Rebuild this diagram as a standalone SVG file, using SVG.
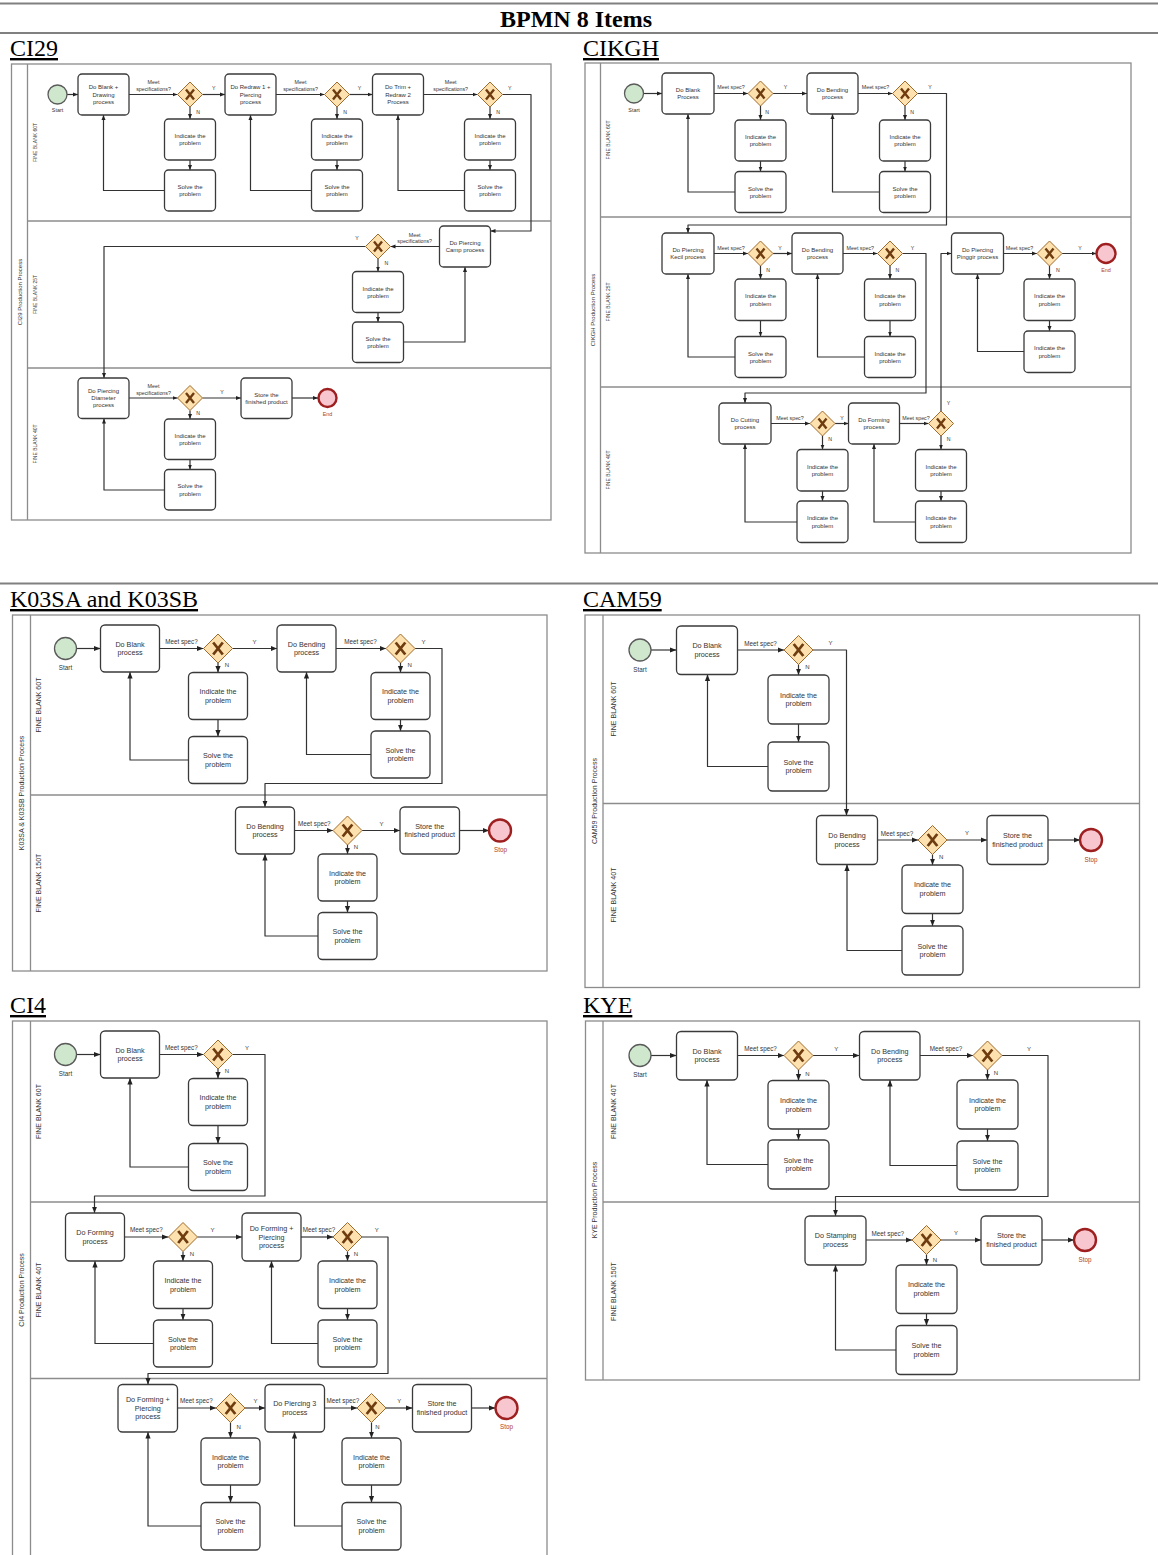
<svg xmlns="http://www.w3.org/2000/svg" xmlns:xlink="http://www.w3.org/1999/xlink" width="1158" height="1555" viewBox="0 0 1158 1555">
<style>
text{font-family:"Liberation Sans",Arial,Helvetica,sans-serif;fill:#333;text-anchor:middle}
.hd{font-family:"Liberation Serif","Times New Roman",serif;font-size:24px;fill:#000;text-anchor:start}
.hb{font-weight:bold;text-anchor:middle}
.ul{text-decoration:underline}
.rule{stroke:#808080;stroke-width:2}
.pool{fill:#fff;stroke:#8c8c8c;stroke-width:1.3}
.lane{stroke:#8c8c8c;stroke-width:1.3;fill:none}
.task{fill:#fff;stroke:#3a3a3a;stroke-width:1.3}
.start{fill:#cfe8cd;stroke:#5a5a5a;stroke-width:1.3}
.end{fill:#f8c6ce;stroke:#9e1f1f;stroke-width:2.4}
.gw{fill:#fde2b0;stroke:#a06a2c;stroke-width:1}
.gx{fill:none;stroke:#6f3c10}
.flow{fill:none;stroke:#333;stroke-width:1.2;stroke-linejoin:round}
.fs{marker-end:url(#ahS)}
.fl{marker-end:url(#ahL)}
.ts{font-size:6px}
.tb{font-size:7.2px}
.ms{font-size:5.3px}
.mb{font-size:6.3px}
.yn{font-size:5.2px}
.ynb{font-size:6px}
.pl{font-size:6px}
.plb{font-size:7px}
.ln{font-size:5px}
.lnb{font-size:7px}
.ev{font-size:5.4px}
.evb{font-size:6.3px}
.stop{fill:#b0402a}
</style>
<defs>
<marker id="ahS" viewBox="0 0 10 10" refX="10" refY="5" markerWidth="5" markerHeight="5" markerUnits="userSpaceOnUse" orient="auto"><path d="M0,1 L10,5 L0,9 Z" fill="#222"/></marker>
<marker id="ahL" viewBox="0 0 10 10" refX="10" refY="5" markerWidth="6.5" markerHeight="6.5" markerUnits="userSpaceOnUse" orient="auto"><path d="M0,1 L10,5 L0,9 Z" fill="#222"/></marker>
<g id="gwS"><path class="gw" d="M0,-12.5 L12.5,0 L0,12.5 L-12.5,0 Z"/><path class="gx" style="stroke-width:2.4" d="M-4,-5 L4,5 M4,-5 L-4,5"/></g>
<g id="gwL"><path class="gw" d="M0,-14.5 L14.5,0 L0,14.5 L-14.5,0 Z"/><path class="gx" style="stroke-width:2.8" d="M-4.8,-6 L4.8,6 M4.8,-6 L-4.8,6"/></g>
</defs>
<rect x="0" y="0" width="1158" height="1555" fill="#fff"/>

<!-- table rules and headings -->
<g id="table">
<line class="rule" x1="0" y1="3.5" x2="1158" y2="3.5"/>
<line class="rule" x1="0" y1="33" x2="1158" y2="33"/>
<line class="rule" x1="0" y1="583.5" x2="1158" y2="583.5"/>
<text class="hd hb" x="576" y="27">BPMN 8 Items</text>
<text class="hd ul" x="10" y="56">CI29</text>
<text class="hd ul" x="583" y="56">CIKGH</text>
<text class="hd ul" x="10" y="607">K03SA and K03SB</text>
<text class="hd ul" x="583" y="607">CAM59</text>
<text class="hd ul" x="10" y="1013">CI4</text>
<text class="hd ul" x="583" y="1013">KYE</text>
</g>

<!-- ================= CI29 ================= -->
<g id="ci29">
<g id="ci29-pool">
<rect class="pool" x="11.5" y="64" width="539.5" height="456"/>
<line class="lane" x1="27.5" y1="64" x2="27.5" y2="520"/>
<line class="lane" x1="27.5" y1="221" x2="551" y2="221"/>
<line class="lane" x1="27.5" y1="368" x2="551" y2="368"/>
<text class="pl" transform="translate(21.6,292) rotate(-90)">CI29 Production Process</text>
<text class="ln" transform="translate(36.8,142.5) rotate(-90)">FINE BLANK 60T</text>
<text class="ln" transform="translate(36.8,294.5) rotate(-90)">FINE BLANK 25T</text>
<text class="ln" transform="translate(36.8,444) rotate(-90)">FINE BLANK 40T</text>
</g>
<g id="ci29-flows">
<path class="flow fs" d="M67 94.5 H78"/>
<path class="flow fs" d="M129 94.5 H177.5"/>
<path class="flow fs" d="M202.5 94.5 H225"/>
<path class="flow fs" d="M276 94.5 H324.5"/>
<path class="flow fs" d="M349.5 94.5 H372.5"/>
<path class="flow fs" d="M423.5 94.5 H477.5"/>
<path class="flow fs" d="M502.5 94.5 H531 V231 H490.5"/>
<path class="flow fs" d="M190 107 V119"/>
<path class="flow fs" d="M190 160 V170"/>
<path class="flow fs" d="M164.5 190.5 H103.5 V115"/>
<path class="flow fs" d="M337 107 V119"/>
<path class="flow fs" d="M337 160 V170"/>
<path class="flow fs" d="M312 190.5 H250.5 V115"/>
<path class="flow fs" d="M490 107 V119"/>
<path class="flow fs" d="M490 160 V170"/>
<path class="flow fs" d="M464.5 190.5 H398 V115"/>
<path class="flow fs" d="M439.5 246.5 H390.5"/>
<path class="flow fs" d="M365.5 246.5 H104 V378"/>
<path class="flow fs" d="M378 259 V271.5"/>
<path class="flow fs" d="M378 312.5 V322"/>
<path class="flow fs" d="M403.5 342 H465 V267"/>
<path class="flow fs" d="M129 398 H177.5"/>
<path class="flow fs" d="M202.5 398 H241"/>
<path class="flow fs" d="M292 398 H318"/>
<path class="flow fs" d="M190 410.5 V419"/>
<path class="flow fs" d="M190 459.5 V469.5"/>
<path class="flow fs" d="M164.5 490 H104 V418.5"/>
<text class="ms" x="153.5" y="84">Meet<tspan x="153.5" dy="6.5">specifications?</tspan></text>
<text class="ms" x="300.5" y="84">Meet<tspan x="300.5" dy="6.5">specifications?</tspan></text>
<text class="ms" x="450.7" y="84">Meet<tspan x="450.7" dy="6.5">specifications?</tspan></text>
<text class="ms" x="414.7" y="236.5">Meet<tspan x="414.7" dy="6.5">specifications?</tspan></text>
<text class="ms" x="153.5" y="388">Meet<tspan x="153.5" dy="6.5">specifications?</tspan></text>
<text class="yn" x="213.8" y="90">Y</text>
<text class="yn" x="359.6" y="90">Y</text>
<text class="yn" x="509.8" y="90">Y</text>
<text class="yn" x="357" y="240">Y</text>
<text class="yn" x="222" y="394">Y</text>
<text class="yn" x="198" y="113.5">N</text>
<text class="yn" x="345" y="113.5">N</text>
<text class="yn" x="498" y="113.5">N</text>
<text class="yn" x="386.3" y="265">N</text>
<text class="yn" x="198" y="415">N</text>
</g>
<g id="ci29-start"><circle class="start" cx="57.5" cy="94.5" r="9.5"/><text class="ev" x="57.5" y="112">Start</text></g>
<g id="ci29-t1"><rect class="task" x="78" y="74" width="51" height="41" rx="4"/><text class="ts" x="103.5" y="89.3">Do Blank +<tspan x="103.5" dy="7.3">Drawing</tspan><tspan x="103.5" dy="7.3">process</tspan></text></g>
<g id="ci29-g1"><use href="#gwS" x="190" y="94.5"/></g>
<g id="ci29-i1"><rect class="task" x="164.5" y="119" width="51" height="41" rx="4"/><text class="ts" x="190" y="138">Indicate the<tspan x="190" dy="7.3">problem</tspan></text></g>
<g id="ci29-s1"><rect class="task" x="164.5" y="170" width="51" height="41" rx="4"/><text class="ts" x="190" y="189">Solve the<tspan x="190" dy="7.3">problem</tspan></text></g>
<g id="ci29-t2"><rect class="task" x="225" y="74" width="51" height="41" rx="4"/><text class="ts" x="250.5" y="89.3">Do Redraw 1 +<tspan x="250.5" dy="7.3">Piercing</tspan><tspan x="250.5" dy="7.3">process</tspan></text></g>
<g id="ci29-g2"><use href="#gwS" x="337" y="94.5"/></g>
<g id="ci29-i2"><rect class="task" x="311.5" y="119" width="51" height="41" rx="4"/><text class="ts" x="337" y="138">Indicate the<tspan x="337" dy="7.3">problem</tspan></text></g>
<g id="ci29-s2"><rect class="task" x="311.5" y="170" width="51" height="41" rx="4"/><text class="ts" x="337" y="189">Solve the<tspan x="337" dy="7.3">problem</tspan></text></g>
<g id="ci29-t3"><rect class="task" x="372.5" y="74" width="51" height="41" rx="4"/><text class="ts" x="398" y="89.3">Do Trim +<tspan x="398" dy="7.3">Redraw 2</tspan><tspan x="398" dy="7.3">Process</tspan></text></g>
<g id="ci29-g3"><use href="#gwS" x="490" y="94.5"/></g>
<g id="ci29-i3"><rect class="task" x="464.5" y="119" width="51" height="41" rx="4"/><text class="ts" x="490" y="138">Indicate the<tspan x="490" dy="7.3">problem</tspan></text></g>
<g id="ci29-s3"><rect class="task" x="464.5" y="170" width="51" height="41" rx="4"/><text class="ts" x="490" y="189">Solve the<tspan x="490" dy="7.3">problem</tspan></text></g>
<g id="ci29-t4"><rect class="task" x="439.5" y="226" width="51" height="41" rx="4"/><text class="ts" x="465" y="245">Do Piercing<tspan x="465" dy="7.3">Camp process</tspan></text></g>
<g id="ci29-g4"><use href="#gwS" x="378" y="246.5"/></g>
<g id="ci29-i4"><rect class="task" x="352.5" y="271.5" width="51" height="41" rx="4"/><text class="ts" x="378" y="290.5">Indicate the<tspan x="378" dy="7.3">problem</tspan></text></g>
<g id="ci29-s4"><rect class="task" x="352.5" y="322" width="51" height="40.5" rx="4"/><text class="ts" x="378" y="340.7">Solve the<tspan x="378" dy="7.3">problem</tspan></text></g>
<g id="ci29-t5"><rect class="task" x="78" y="378" width="51" height="40.5" rx="4"/><text class="ts" x="103.5" y="392.8">Do Piercing<tspan x="103.5" dy="7.3">Diameter</tspan><tspan x="103.5" dy="7.3">process</tspan></text></g>
<g id="ci29-g5"><use href="#gwS" x="190" y="398"/></g>
<g id="ci29-i5"><rect class="task" x="164.5" y="419" width="51" height="40.5" rx="4"/><text class="ts" x="190" y="437.7">Indicate the<tspan x="190" dy="7.3">problem</tspan></text></g>
<g id="ci29-s5"><rect class="task" x="164.5" y="469.5" width="51" height="40.5" rx="4"/><text class="ts" x="190" y="488.2">Solve the<tspan x="190" dy="7.3">problem</tspan></text></g>
<g id="ci29-store"><rect class="task" x="241" y="378" width="51" height="40.5" rx="4"/><text class="ts" x="266.5" y="396.5">Store the<tspan x="266.5" dy="7.3">finished product</tspan></text></g>
<g id="ci29-end"><circle class="end" cx="327.5" cy="398" r="9"/><text class="ev stop" x="327.5" y="416">End</text></g>
</g>

<!-- ================= CIKGH ================= -->
<g id="cikgh">
<g id="cikgh-pool">
<rect class="pool" x="585" y="63" width="546" height="490"/>
<line class="lane" x1="600.5" y1="63" x2="600.5" y2="553"/>
<line class="lane" x1="600.5" y1="217" x2="1131" y2="217"/>
<line class="lane" x1="600.5" y1="387" x2="1131" y2="387"/>
<text class="pl" transform="translate(595.1,310) rotate(-90)">CIKGH Production Process</text>
<text class="ln" transform="translate(609.8,140) rotate(-90)">FINE BLANK 60T</text>
<text class="ln" transform="translate(609.8,302) rotate(-90)">FINE BLANK 25T</text>
<text class="ln" transform="translate(609.8,470) rotate(-90)">FINE BLANK 40T</text>
</g>
<g id="cikgh-flows">
<path class="flow fs" d="M643.5 93.5 H662"/>
<path class="flow fs" d="M714 93.5 H748"/>
<path class="flow fs" d="M773 93.5 H807"/>
<path class="flow fs" d="M858 93.5 H892.5"/>
<path class="flow fs" d="M917.5 93.5 H946.5 V225 H688 V233"/>
<path class="flow fs" d="M760.5 106 V120"/>
<path class="flow fs" d="M760.5 161 V171.5"/>
<path class="flow fs" d="M735 192 H688 V114"/>
<path class="flow fs" d="M905 106 V120"/>
<path class="flow fs" d="M905 161 V171.5"/>
<path class="flow fs" d="M879.5 192 H832.5 V114"/>
<path class="flow fs" d="M714 253.5 H748"/>
<path class="flow fs" d="M773 253.5 H792"/>
<path class="flow fs" d="M843 253.5 H877.5"/>
<path class="flow fs" d="M902.5 253.5 H926 V393 H745 V403"/>
<path class="flow fs" d="M1003.5 253.5 H1037"/>
<path class="flow fs" d="M1062 253.5 H1096.5"/>
<path class="flow fs" d="M760.5 266 V279"/>
<path class="flow fs" d="M760.5 320.5 V336.5"/>
<path class="flow fs" d="M735 357 H688 V274"/>
<path class="flow fs" d="M890 266 V279"/>
<path class="flow fs" d="M890 320.5 V336.5"/>
<path class="flow fs" d="M864.5 357 H817.5 V274"/>
<path class="flow fs" d="M1049.5 266 V279"/>
<path class="flow fs" d="M1049.5 320.5 V331"/>
<path class="flow fs" d="M1024 351.5 H977.5 V274"/>
<path class="flow fs" d="M771 423.5 H810"/>
<path class="flow fs" d="M835 423.5 H848.5"/>
<path class="flow fs" d="M899.5 423.5 H928.5"/>
<path class="flow fs" d="M941 411 V253.5 H951.5"/>
<path class="flow fs" d="M822.5 436 V449.5"/>
<path class="flow fs" d="M822.5 491 V501"/>
<path class="flow fs" d="M797 522 H745 V444"/>
<path class="flow fs" d="M941 436 V449.5"/>
<path class="flow fs" d="M941 491 V501"/>
<path class="flow fs" d="M915.5 522 H874 V444"/>
<text class="ms" x="731" y="89">Meet spec?</text>
<text class="ms" x="875.5" y="89">Meet spec?</text>
<text class="ms" x="731" y="249.5">Meet spec?</text>
<text class="ms" x="860.3" y="249.5">Meet spec?</text>
<text class="ms" x="1019.5" y="249.5">Meet spec?</text>
<text class="ms" x="790" y="419.5">Meet spec?</text>
<text class="ms" x="916" y="419.5">Meet spec?</text>
<text class="yn" x="785.6" y="89">Y</text>
<text class="yn" x="930" y="89">Y</text>
<text class="yn" x="780" y="249.5">Y</text>
<text class="yn" x="912.6" y="249.5">Y</text>
<text class="yn" x="1080" y="249.5">Y</text>
<text class="yn" x="841.9" y="419.5">Y</text>
<text class="yn" x="948.5" y="404.5">Y</text>
<text class="yn" x="767" y="113.5">N</text>
<text class="yn" x="912.2" y="113.5">N</text>
<text class="yn" x="768" y="272">N</text>
<text class="yn" x="897.4" y="272">N</text>
<text class="yn" x="1057.8" y="272">N</text>
<text class="yn" x="830" y="441">N</text>
<text class="yn" x="948.5" y="441">N</text>
</g>
<g id="cikgh-start"><circle class="start" cx="634" cy="93.5" r="9.5"/><text class="ev" x="634" y="112">Start</text></g>
<g id="cikgh-t1"><rect class="task" x="662" y="73" width="52" height="41" rx="4"/><text class="ts" x="688" y="92">Do Blank<tspan x="688" dy="7.3">Process</tspan></text></g>
<g id="cikgh-g1"><use href="#gwS" x="760.5" y="93.5"/></g>
<g id="cikgh-i1"><rect class="task" x="735" y="120" width="51" height="41" rx="4"/><text class="ts" x="760.5" y="139">Indicate the<tspan x="760.5" dy="7.3">problem</tspan></text></g>
<g id="cikgh-s1"><rect class="task" x="735" y="171.5" width="51" height="41" rx="4"/><text class="ts" x="760.5" y="190.5">Solve the<tspan x="760.5" dy="7.3">problem</tspan></text></g>
<g id="cikgh-t2"><rect class="task" x="807" y="73" width="51" height="41" rx="4"/><text class="ts" x="832.5" y="92">Do Bending<tspan x="832.5" dy="7.3">process</tspan></text></g>
<g id="cikgh-g2"><use href="#gwS" x="905" y="93.5"/></g>
<g id="cikgh-i2"><rect class="task" x="879.5" y="120" width="51" height="41" rx="4"/><text class="ts" x="905" y="139">Indicate the<tspan x="905" dy="7.3">problem</tspan></text></g>
<g id="cikgh-s2"><rect class="task" x="879.5" y="171.5" width="51" height="41" rx="4"/><text class="ts" x="905" y="190.5">Solve the<tspan x="905" dy="7.3">problem</tspan></text></g>
<g id="cikgh-t3"><rect class="task" x="662" y="233" width="52" height="41" rx="4"/><text class="ts" x="688" y="252">Do Piercing<tspan x="688" dy="7.3">Kecil process</tspan></text></g>
<g id="cikgh-g3"><use href="#gwS" x="760.5" y="253.5"/></g>
<g id="cikgh-i3"><rect class="task" x="735" y="279" width="51" height="41.5" rx="4"/><text class="ts" x="760.5" y="298.2">Indicate the<tspan x="760.5" dy="7.3">problem</tspan></text></g>
<g id="cikgh-s3"><rect class="task" x="735" y="336.5" width="51" height="41" rx="4"/><text class="ts" x="760.5" y="355.5">Solve the<tspan x="760.5" dy="7.3">problem</tspan></text></g>
<g id="cikgh-t4"><rect class="task" x="792" y="233" width="51" height="41" rx="4"/><text class="ts" x="817.5" y="252">Do Bending<tspan x="817.5" dy="7.3">process</tspan></text></g>
<g id="cikgh-g4"><use href="#gwS" x="890" y="253.5"/></g>
<g id="cikgh-i4"><rect class="task" x="864.5" y="279" width="51" height="41.5" rx="4"/><text class="ts" x="890" y="298.2">Indicate the<tspan x="890" dy="7.3">problem</tspan></text></g>
<g id="cikgh-i4b"><rect class="task" x="864.5" y="336.5" width="51" height="41" rx="4"/><text class="ts" x="890" y="355.5">Indicate the<tspan x="890" dy="7.3">problem</tspan></text></g>
<g id="cikgh-t5"><rect class="task" x="951.5" y="233" width="52" height="41" rx="4"/><text class="ts" x="977.5" y="252">Do Piercing<tspan x="977.5" dy="7.3">Pinggir process</tspan></text></g>
<g id="cikgh-g5"><use href="#gwS" x="1049.5" y="253.5"/></g>
<g id="cikgh-i5"><rect class="task" x="1024" y="279" width="51" height="41.5" rx="4"/><text class="ts" x="1049.5" y="298.2">Indicate the<tspan x="1049.5" dy="7.3">problem</tspan></text></g>
<g id="cikgh-i5b"><rect class="task" x="1024" y="331" width="51" height="41.5" rx="4"/><text class="ts" x="1049.5" y="350.2">Indicate the<tspan x="1049.5" dy="7.3">problem</tspan></text></g>
<g id="cikgh-end"><circle class="end" cx="1106" cy="253.5" r="9.5"/><text class="ev stop" x="1106" y="272">End</text></g>
<g id="cikgh-t6"><rect class="task" x="719" y="403" width="52" height="41" rx="4"/><text class="ts" x="745" y="422">Do Cutting<tspan x="745" dy="7.3">process</tspan></text></g>
<g id="cikgh-g6"><use href="#gwS" x="822.5" y="423.5"/></g>
<g id="cikgh-i6"><rect class="task" x="797" y="449.5" width="51" height="41.5" rx="4"/><text class="ts" x="822.5" y="468.7">Indicate the<tspan x="822.5" dy="7.3">problem</tspan></text></g>
<g id="cikgh-i6b"><rect class="task" x="797" y="501" width="51" height="41.5" rx="4"/><text class="ts" x="822.5" y="520.2">Indicate the<tspan x="822.5" dy="7.3">problem</tspan></text></g>
<g id="cikgh-t7"><rect class="task" x="848.5" y="403" width="51" height="41" rx="4"/><text class="ts" x="874" y="422">Do Forming<tspan x="874" dy="7.3">process</tspan></text></g>
<g id="cikgh-g7"><use href="#gwS" x="941" y="423.5"/></g>
<g id="cikgh-i7"><rect class="task" x="915.5" y="449.5" width="51" height="41.5" rx="4"/><text class="ts" x="941" y="468.7">Indicate the<tspan x="941" dy="7.3">problem</tspan></text></g>
<g id="cikgh-i7b"><rect class="task" x="915.5" y="501" width="51" height="41.5" rx="4"/><text class="ts" x="941" y="520.2">Indicate the<tspan x="941" dy="7.3">problem</tspan></text></g>
</g>

<!-- ================= K03SA and K03SB ================= -->
<g id="k03s">
<g id="k03s-pool">
<rect class="pool" x="12.5" y="615" width="534.5" height="356"/>
<line class="lane" x1="30.5" y1="615" x2="30.5" y2="971"/>
<line class="lane" x1="30.5" y1="795" x2="547" y2="795"/>
<text class="plb" transform="translate(23.9,793) rotate(-90)">K03SA &amp; K03SB Production Process</text>
<text class="lnb" transform="translate(41,705) rotate(-90)">FINE BLANK 60T</text>
<text class="lnb" transform="translate(41,883) rotate(-90)">FINE BLANK 150T</text>
</g>
<g id="k03s-flows">
<path class="flow fl" d="M76.5 648.5 H100.5"/>
<path class="flow fl" d="M159.5 648.5 H203.5"/>
<path class="flow fl" d="M232.5 648.5 H277"/>
<path class="flow fl" d="M336 648.5 H386"/>
<path class="flow fl" d="M415 648.5 H442 V783.5 H265 V807"/>
<path class="flow fl" d="M218 663 V672.5"/>
<path class="flow fl" d="M218 719.5 V736.5"/>
<path class="flow fl" d="M188.5 760 H130 V672"/>
<path class="flow fl" d="M400.5 663 V672.5"/>
<path class="flow fl" d="M400.5 719.5 V731"/>
<path class="flow fl" d="M371 754.5 H306.5 V672"/>
<path class="flow fl" d="M294.5 830.5 H333"/>
<path class="flow fl" d="M362 830.5 H400"/>
<path class="flow fl" d="M459.5 830.5 H489"/>
<path class="flow fl" d="M347.5 845 V854"/>
<path class="flow fl" d="M347.5 901 V912.5"/>
<path class="flow fl" d="M318 936 H265 V854"/>
<text class="mb" x="181.5" y="644.2">Meet spec?</text>
<text class="mb" x="360.5" y="644.2">Meet spec?</text>
<text class="mb" x="314.3" y="826.2">Meet spec?</text>
<text class="ynb" x="254.6" y="643.8">Y</text>
<text class="ynb" x="423.6" y="643.8">Y</text>
<text class="ynb" x="381.4" y="825.8">Y</text>
<text class="ynb" x="226.8" y="667">N</text>
<text class="ynb" x="409.6" y="667">N</text>
<text class="ynb" x="356" y="848.8">N</text>
</g>
<g id="k03s-start"><circle class="start" cx="65.5" cy="648.5" r="11"/><text class="evb" x="65.5" y="669.5">Start</text></g>
<g id="k03s-t1"><rect class="task" x="100.5" y="625" width="59" height="47" rx="4.5"/><text class="tb" x="130" y="646.65">Do Blank<tspan x="130" dy="8.7">process</tspan></text></g>
<g id="k03s-g1"><use href="#gwL" x="218" y="648.5"/></g>
<g id="k03s-i1"><rect class="task" x="188.5" y="672.5" width="59" height="47" rx="4.5"/><text class="tb" x="218" y="694.15">Indicate the<tspan x="218" dy="8.7">problem</tspan></text></g>
<g id="k03s-s1"><rect class="task" x="188.5" y="736.5" width="59" height="47" rx="4.5"/><text class="tb" x="218" y="758.15">Solve the<tspan x="218" dy="8.7">problem</tspan></text></g>
<g id="k03s-t2"><rect class="task" x="277" y="625" width="59" height="47" rx="4.5"/><text class="tb" x="306.5" y="646.65">Do Bending<tspan x="306.5" dy="8.7">process</tspan></text></g>
<g id="k03s-g2"><use href="#gwL" x="400.5" y="648.5"/></g>
<g id="k03s-i2"><rect class="task" x="371" y="672.5" width="59" height="47" rx="4.5"/><text class="tb" x="400.5" y="694.15">Indicate the<tspan x="400.5" dy="8.7">problem</tspan></text></g>
<g id="k03s-s2"><rect class="task" x="371" y="731" width="59" height="47" rx="4.5"/><text class="tb" x="400.5" y="752.65">Solve the<tspan x="400.5" dy="8.7">problem</tspan></text></g>
<g id="k03s-t3"><rect class="task" x="235.5" y="807" width="59" height="47" rx="4.5"/><text class="tb" x="265" y="828.65">Do Bending<tspan x="265" dy="8.7">process</tspan></text></g>
<g id="k03s-g3"><use href="#gwL" x="347.5" y="830.5"/></g>
<g id="k03s-i3"><rect class="task" x="318" y="854" width="59" height="47" rx="4.5"/><text class="tb" x="347.5" y="875.65">Indicate the<tspan x="347.5" dy="8.7">problem</tspan></text></g>
<g id="k03s-s3"><rect class="task" x="318" y="912.5" width="59" height="47" rx="4.5"/><text class="tb" x="347.5" y="934.15">Solve the<tspan x="347.5" dy="8.7">problem</tspan></text></g>
<g id="k03s-store"><rect class="task" x="400" y="807" width="59.5" height="47" rx="4.5"/><text class="tb" x="429.75" y="828.65">Store the<tspan x="429.75" dy="8.7">finished product</tspan></text></g>
<g id="k03s-end"><circle class="end" cx="500" cy="830.5" r="11"/><text class="evb stop" x="500.5" y="851.5">Stop</text></g>
</g>

<!-- ================= CAM59 ================= -->
<g id="cam59">
<g id="cam59-pool">
<rect class="pool" x="585" y="615" width="554.5" height="372.5"/>
<line class="lane" x1="603" y1="615" x2="603" y2="987.5"/>
<line class="lane" x1="603" y1="803.5" x2="1139.5" y2="803.5"/>
<text class="plb" transform="translate(597.2,801) rotate(-90)">CAM59 Production Process</text>
<text class="lnb" transform="translate(615.5,709) rotate(-90)">FINE BLANK 60T</text>
<text class="lnb" transform="translate(615.5,895) rotate(-90)">FINE BLANK 40T</text>
</g>
<g id="cam59-flows">
<path class="flow fl" d="M651 650 H676.5"/>
<path class="flow fl" d="M738 650 H784"/>
<path class="flow fl" d="M813 650 H846.5 V815.5"/>
<path class="flow fl" d="M798.5 664.5 V675"/>
<path class="flow fl" d="M798.5 724 V742"/>
<path class="flow fl" d="M768 766.5 H707.5 V674.5"/>
<path class="flow fl" d="M877.5 840 H918"/>
<path class="flow fl" d="M947 840 H987"/>
<path class="flow fl" d="M1048 840 H1080"/>
<path class="flow fl" d="M932.5 854.5 V865"/>
<path class="flow fl" d="M932.5 913.5 V926"/>
<path class="flow fl" d="M902 950.5 H847 V864.5"/>
<text class="mb" x="760.6" y="645.5">Meet spec?</text>
<text class="mb" x="897" y="835.5">Meet spec?</text>
<text class="ynb" x="830.6" y="644.8">Y</text>
<text class="ynb" x="967" y="834.8">Y</text>
<text class="ynb" x="807.4" y="669.4">N</text>
<text class="ynb" x="941.2" y="858.8">N</text>
</g>
<g id="cam59-start"><circle class="start" cx="640" cy="650" r="11"/><text class="evb" x="640" y="671.5">Start</text></g>
<g id="cam59-t1"><rect class="task" x="676.5" y="626" width="61" height="48.5" rx="4.5"/><text class="tb" x="707" y="648.15">Do Blank<tspan x="707" dy="8.7">process</tspan></text></g>
<g id="cam59-g1"><use href="#gwL" x="798.5" y="650"/></g>
<g id="cam59-i1"><rect class="task" x="768" y="675" width="61" height="49" rx="4.5"/><text class="tb" x="798.5" y="697.65">Indicate the<tspan x="798.5" dy="8.7">problem</tspan></text></g>
<g id="cam59-s1"><rect class="task" x="768" y="742" width="61" height="49" rx="4.5"/><text class="tb" x="798.5" y="764.65">Solve the<tspan x="798.5" dy="8.7">problem</tspan></text></g>
<g id="cam59-t2"><rect class="task" x="816.5" y="815.5" width="61" height="49" rx="4.5"/><text class="tb" x="847" y="838.15">Do Bending<tspan x="847" dy="8.7">process</tspan></text></g>
<g id="cam59-g2"><use href="#gwL" x="932.5" y="840"/></g>
<g id="cam59-i2"><rect class="task" x="902" y="865" width="61" height="48.5" rx="4.5"/><text class="tb" x="932.5" y="887.4">Indicate the<tspan x="932.5" dy="8.7">problem</tspan></text></g>
<g id="cam59-s2"><rect class="task" x="902" y="926" width="61" height="49" rx="4.5"/><text class="tb" x="932.5" y="948.65">Solve the<tspan x="932.5" dy="8.7">problem</tspan></text></g>
<g id="cam59-store"><rect class="task" x="987" y="815.5" width="61" height="49" rx="4.5"/><text class="tb" x="1017.5" y="838.15">Store the<tspan x="1017.5" dy="8.7">finished product</tspan></text></g>
<g id="cam59-end"><circle class="end" cx="1091" cy="840" r="11"/><text class="evb stop" x="1091" y="862.2">Stop</text></g>
</g>

<!-- ================= CI4 ================= -->
<g id="ci4">
<g id="ci4-pool">
<rect class="pool" x="12.5" y="1021" width="534.5" height="560"/>
<line class="lane" x1="30.5" y1="1021" x2="30.5" y2="1581"/>
<line class="lane" x1="30.5" y1="1202" x2="547" y2="1202"/>
<line class="lane" x1="30.5" y1="1378.5" x2="547" y2="1378.5"/>
<text class="plb" transform="translate(23.9,1290) rotate(-90)">CI4 Production Process</text>
<text class="lnb" transform="translate(41,1111.5) rotate(-90)">FINE BLANK 60T</text>
<text class="lnb" transform="translate(41,1290) rotate(-90)">FINE BLANK 40T</text>
</g>
<g id="ci4-flows">
<path class="flow fl" d="M76.5 1054.5 H100.5"/>
<path class="flow fl" d="M159.5 1054.5 H203.5"/>
<path class="flow fl" d="M232.5 1054.5 H265 V1196 H94.5 V1213"/>
<path class="flow fl" d="M218 1069 V1078.5"/>
<path class="flow fl" d="M218 1125.5 V1143.5"/>
<path class="flow fl" d="M188.5 1167 H130 V1078"/>
<path class="flow fl" d="M124.5 1237 H168.5"/>
<path class="flow fl" d="M197.5 1237 H242"/>
<path class="flow fl" d="M301 1237 H333"/>
<path class="flow fl" d="M362 1237 H388 V1373.5 H148 V1384.5"/>
<path class="flow fl" d="M183 1251.5 V1261"/>
<path class="flow fl" d="M183 1308.5 V1320"/>
<path class="flow fl" d="M153.5 1343.5 H95 V1261"/>
<path class="flow fl" d="M347.5 1251.5 V1261"/>
<path class="flow fl" d="M347.5 1308.5 V1320"/>
<path class="flow fl" d="M318 1343.5 H271.5 V1261"/>
<path class="flow fl" d="M177.5 1408 H216"/>
<path class="flow fl" d="M245 1408 H265"/>
<path class="flow fl" d="M324.5 1408 H357"/>
<path class="flow fl" d="M386 1408 H412.5"/>
<path class="flow fl" d="M471.5 1408 H495.5"/>
<path class="flow fl" d="M230.5 1422.5 V1438"/>
<path class="flow fl" d="M230.5 1485 V1502.5"/>
<path class="flow fl" d="M201 1526 H148 V1432"/>
<path class="flow fl" d="M371.5 1422.5 V1438"/>
<path class="flow fl" d="M371.5 1485 V1502.5"/>
<path class="flow fl" d="M342 1526 H294.5 V1432"/>
<text class="mb" x="181.4" y="1050.2">Meet spec?</text>
<text class="mb" x="146.4" y="1232.2">Meet spec?</text>
<text class="mb" x="319" y="1232.2">Meet spec?</text>
<text class="mb" x="196.4" y="1403.2">Meet spec?</text>
<text class="mb" x="342.9" y="1403.2">Meet spec?</text>
<text class="ynb" x="247.1" y="1050.2">Y</text>
<text class="ynb" x="212.5" y="1232.2">Y</text>
<text class="ynb" x="376.8" y="1232.2">Y</text>
<text class="ynb" x="255.4" y="1403.2">Y</text>
<text class="ynb" x="399.3" y="1403.2">Y</text>
<text class="ynb" x="226.8" y="1072.8">N</text>
<text class="ynb" x="191.8" y="1255.5">N</text>
<text class="ynb" x="356" y="1255.5">N</text>
<text class="ynb" x="238.6" y="1428.8">N</text>
<text class="ynb" x="377.5" y="1428.8">N</text>
</g>
<g id="ci4-start"><circle class="start" cx="65.5" cy="1054.5" r="11"/><text class="evb" x="65.5" y="1075.5">Start</text></g>
<g id="ci4-t1"><rect class="task" x="100.5" y="1031" width="59" height="47" rx="4.5"/><text class="tb" x="130" y="1052.65">Do Blank<tspan x="130" dy="8.7">process</tspan></text></g>
<g id="ci4-g1"><use href="#gwL" x="218" y="1054.5"/></g>
<g id="ci4-i1"><rect class="task" x="188.5" y="1078.5" width="59" height="47" rx="4.5"/><text class="tb" x="218" y="1100.15">Indicate the<tspan x="218" dy="8.7">problem</tspan></text></g>
<g id="ci4-s1"><rect class="task" x="188.5" y="1143.5" width="59" height="47" rx="4.5"/><text class="tb" x="218" y="1165.15">Solve the<tspan x="218" dy="8.7">problem</tspan></text></g>
<g id="ci4-t2"><rect class="task" x="65.5" y="1213" width="59" height="48" rx="4.5"/><text class="tb" x="95" y="1235.15">Do Forming<tspan x="95" dy="8.7">process</tspan></text></g>
<g id="ci4-g2"><use href="#gwL" x="183" y="1237"/></g>
<g id="ci4-i2"><rect class="task" x="153.5" y="1261" width="59" height="47.5" rx="4.5"/><text class="tb" x="183" y="1282.9">Indicate the<tspan x="183" dy="8.7">problem</tspan></text></g>
<g id="ci4-s2"><rect class="task" x="153.5" y="1320" width="59" height="47" rx="4.5"/><text class="tb" x="183" y="1341.65">Solve the<tspan x="183" dy="8.7">problem</tspan></text></g>
<g id="ci4-t3"><rect class="task" x="242" y="1213" width="59" height="48" rx="4.5"/><text class="tb" x="271.5" y="1230.8">Do Forming +<tspan x="271.5" dy="8.7">Piercing</tspan><tspan x="271.5" dy="8.7">process</tspan></text></g>
<g id="ci4-g3"><use href="#gwL" x="347.5" y="1237"/></g>
<g id="ci4-i3"><rect class="task" x="318" y="1261" width="59" height="47.5" rx="4.5"/><text class="tb" x="347.5" y="1282.9">Indicate the<tspan x="347.5" dy="8.7">problem</tspan></text></g>
<g id="ci4-s3"><rect class="task" x="318" y="1320" width="59" height="47" rx="4.5"/><text class="tb" x="347.5" y="1341.65">Solve the<tspan x="347.5" dy="8.7">problem</tspan></text></g>
<g id="ci4-t4"><rect class="task" x="118" y="1384.5" width="59.5" height="47.5" rx="4.5"/><text class="tb" x="147.75" y="1401.8">Do Forming +<tspan x="147.75" dy="8.7">Piercing</tspan><tspan x="147.75" dy="8.7">process</tspan></text></g>
<g id="ci4-g4"><use href="#gwL" x="230.5" y="1408"/></g>
<g id="ci4-i4"><rect class="task" x="201" y="1438" width="59" height="47" rx="4.5"/><text class="tb" x="230.5" y="1459.65">Indicate the<tspan x="230.5" dy="8.7">problem</tspan></text></g>
<g id="ci4-s4"><rect class="task" x="201" y="1502.5" width="59" height="47.5" rx="4.5"/><text class="tb" x="230.5" y="1524.4">Solve the<tspan x="230.5" dy="8.7">problem</tspan></text></g>
<g id="ci4-t5"><rect class="task" x="265" y="1384.5" width="59.5" height="47.5" rx="4.5"/><text class="tb" x="294.75" y="1406.15">Do Piercing 3<tspan x="294.75" dy="8.7">process</tspan></text></g>
<g id="ci4-g5"><use href="#gwL" x="371.5" y="1408"/></g>
<g id="ci4-i5"><rect class="task" x="342" y="1438" width="59" height="47" rx="4.5"/><text class="tb" x="371.5" y="1459.65">Indicate the<tspan x="371.5" dy="8.7">problem</tspan></text></g>
<g id="ci4-s5"><rect class="task" x="342" y="1502.5" width="59" height="47.5" rx="4.5"/><text class="tb" x="371.5" y="1524.4">Solve the<tspan x="371.5" dy="8.7">problem</tspan></text></g>
<g id="ci4-store"><rect class="task" x="412.5" y="1384.5" width="59" height="47.5" rx="4.5"/><text class="tb" x="442" y="1406.15">Store the<tspan x="442" dy="8.7">finished product</tspan></text></g>
<g id="ci4-end"><circle class="end" cx="506.5" cy="1408" r="11"/><text class="evb stop" x="506.5" y="1428.8">Stop</text></g>
</g>

<!-- ================= KYE ================= -->
<g id="kye">
<g id="kye-pool">
<rect class="pool" x="585.5" y="1021" width="554" height="359"/>
<line class="lane" x1="603" y1="1021" x2="603" y2="1380"/>
<line class="lane" x1="603" y1="1202" x2="1139.5" y2="1202"/>
<text class="plb" transform="translate(597.2,1200) rotate(-90)">KYE Production Process</text>
<text class="lnb" transform="translate(615.5,1111.5) rotate(-90)">FINE BLANK 40T</text>
<text class="lnb" transform="translate(615.5,1291.5) rotate(-90)">FINE BLANK 150T</text>
</g>
<g id="kye-flows">
<path class="flow fl" d="M651 1055.5 H676.5"/>
<path class="flow fl" d="M738 1055.5 H784"/>
<path class="flow fl" d="M813 1055.5 H859.5"/>
<path class="flow fl" d="M920 1055.5 H973"/>
<path class="flow fl" d="M1002 1055.5 H1048 V1196.5 H835.5 V1216"/>
<path class="flow fl" d="M798.5 1070 V1080.5"/>
<path class="flow fl" d="M798.5 1129 V1140"/>
<path class="flow fl" d="M768 1164.5 H707 V1080"/>
<path class="flow fl" d="M987.5 1070 V1080"/>
<path class="flow fl" d="M987.5 1129 V1141"/>
<path class="flow fl" d="M957 1165.5 H890 V1080"/>
<path class="flow fl" d="M866 1240 H912"/>
<path class="flow fl" d="M941 1240 H981"/>
<path class="flow fl" d="M1042 1240 H1074"/>
<path class="flow fl" d="M926.5 1254.5 V1265"/>
<path class="flow fl" d="M926.5 1313.5 V1325.5"/>
<path class="flow fl" d="M896 1350 H835.5 V1265"/>
<text class="mb" x="760.6" y="1050.5">Meet spec?</text>
<text class="mb" x="946" y="1050.5">Meet spec?</text>
<text class="mb" x="887.8" y="1235.5">Meet spec?</text>
<text class="ynb" x="836.2" y="1050.5">Y</text>
<text class="ynb" x="1029" y="1050.5">Y</text>
<text class="ynb" x="956" y="1234.8">Y</text>
<text class="ynb" x="807.4" y="1075.5">N</text>
<text class="ynb" x="995.8" y="1074.5">N</text>
<text class="ynb" x="935" y="1261.5">N</text>
</g>
<g id="kye-start"><circle class="start" cx="640" cy="1055.5" r="11"/><text class="evb" x="640" y="1077">Start</text></g>
<g id="kye-t1"><rect class="task" x="676.5" y="1031.5" width="61" height="48.5" rx="4.5"/><text class="tb" x="707" y="1053.65">Do Blank<tspan x="707" dy="8.7">process</tspan></text></g>
<g id="kye-g1"><use href="#gwL" x="798.5" y="1055.5"/></g>
<g id="kye-i1"><rect class="task" x="768" y="1080.5" width="61" height="48.5" rx="4.5"/><text class="tb" x="798.5" y="1102.9">Indicate the<tspan x="798.5" dy="8.7">problem</tspan></text></g>
<g id="kye-s1"><rect class="task" x="768" y="1140" width="61" height="49" rx="4.5"/><text class="tb" x="798.5" y="1162.65">Solve the<tspan x="798.5" dy="8.7">problem</tspan></text></g>
<g id="kye-t2"><rect class="task" x="859.5" y="1031.5" width="60.5" height="48.5" rx="4.5"/><text class="tb" x="889.75" y="1053.65">Do Bending<tspan x="889.75" dy="8.7">process</tspan></text></g>
<g id="kye-g2"><use href="#gwL" x="987.5" y="1055.5"/></g>
<g id="kye-i2"><rect class="task" x="957" y="1080" width="61" height="49" rx="4.5"/><text class="tb" x="987.5" y="1102.65">Indicate the<tspan x="987.5" dy="8.7">problem</tspan></text></g>
<g id="kye-s2"><rect class="task" x="957" y="1141" width="61" height="49" rx="4.5"/><text class="tb" x="987.5" y="1163.65">Solve the<tspan x="987.5" dy="8.7">problem</tspan></text></g>
<g id="kye-t3"><rect class="task" x="805" y="1216" width="61" height="49" rx="4.5"/><text class="tb" x="835.5" y="1238.15">Do Stamping<tspan x="835.5" dy="8.7">process</tspan></text></g>
<g id="kye-g3"><use href="#gwL" x="926.5" y="1240"/></g>
<g id="kye-i3"><rect class="task" x="896" y="1265" width="61" height="48.5" rx="4.5"/><text class="tb" x="926.5" y="1287.4">Indicate the<tspan x="926.5" dy="8.7">problem</tspan></text></g>
<g id="kye-s3"><rect class="task" x="896" y="1325.5" width="61" height="49" rx="4.5"/><text class="tb" x="926.5" y="1348.15">Solve the<tspan x="926.5" dy="8.7">problem</tspan></text></g>
<g id="kye-store"><rect class="task" x="981" y="1216" width="61" height="49" rx="4.5"/><text class="tb" x="1011.5" y="1238.15">Store the<tspan x="1011.5" dy="8.7">finished product</tspan></text></g>
<g id="kye-end"><circle class="end" cx="1085" cy="1240" r="11"/><text class="evb stop" x="1085" y="1261.5">Stop</text></g>
</g>
</svg>
